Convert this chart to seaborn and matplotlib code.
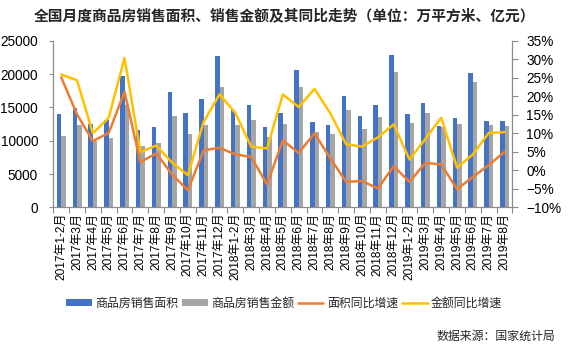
import numpy as np
import pandas as pd
import matplotlib
matplotlib.use("Agg")
import matplotlib.pyplot as plt
from matplotlib.patches import Patch
from matplotlib.lines import Line2D
from matplotlib.ticker import FixedLocator, PercentFormatter
import seaborn as sns

categories = [
    "2017年1-2月", "2017年3月", "2017年4月", "2017年5月", "2017年6月", "2017年7月",
    "2017年8月", "2017年9月", "2017年10月", "2017年11月", "2017年12月",
    "2018年1-2月", "2018年3月", "2018年4月", "2018年5月", "2018年6月", "2018年7月",
    "2018年8月", "2018年9月", "2018年10月", "2018年11月", "2018年12月",
    "2019年1-2月", "2019年3月", "2019年4月", "2019年5月", "2019年6月", "2019年7月",
    "2019年8月",
]
area = [14000, 14900, 12500, 13100, 19700, 11600, 12050, 17300, 14150, 16250, 22700,
        14600, 15350, 12050, 14150, 20600, 12800, 12350, 16700, 13700, 15350, 22850,
        14000, 15650, 12200, 13400, 20150, 12950, 12950]
amount = [10700, 12350, 10000, 10400, 15400, 9200, 9650, 13750, 11050, 12350, 18050,
          12350, 13100, 10550, 12500, 18050, 11300, 11000, 14600, 11750, 13550, 20300,
          12650, 14150, 12100, 12500, 18800, 12350, 12200]
area_yoy = [25.1, 15.1, 7.9, 10.1, 21.2, 2.2, 4.6, -1.1, -5.4, 5.4, 6.1,
            4.3, 3.6, -3.8, 8.1, 4.7, 10.0, 3.2, -3.1, -2.9, -4.9, 1.1,
            -3.1, 2.0, 1.6, -5.1, -1.8, 1.4, 5.0]
amount_yoy = [25.9, 24.3, 10.0, 14.2, 30.3, 4.9, 6.7, 2.1, -1.3, 13.1, 20.5,
              15.5, 6.4, 5.9, 20.5, 17.1, 22.0, 15.4, 7.0, 6.4, 8.9, 12.4,
              2.9, 8.5, 14.2, 0.7, 4.3, 10.1, 10.3]

series_names = ["商品房销售面积", "商品房销售金额", "面积同比增速", "金额同比增速"]
colors = ["#4472C4", "#A5A5A5", "#ED7D31", "#FFC000"]

sns.set_theme(style="white")
plt.rcParams["font.family"] = ["Liberation Sans", "Noto Sans CJK SC", "DejaVu Sans"]
plt.rcParams["axes.unicode_minus"] = True

bars = pd.DataFrame({
    "月份": categories * 2,
    "值": area + amount,
    "指标": [series_names[0]] * len(categories) + [series_names[1]] * len(categories),
})
lines = pd.DataFrame({
    "pos": list(range(len(categories))) * 2,
    "增速": area_yoy + amount_yoy,
    "指标": [series_names[2]] * len(categories) + [series_names[3]] * len(categories),
})

fig = plt.figure(figsize=(5.7, 3.45), dpi=100)
ax = fig.add_axes([0.0935, 0.399, 0.8055, 0.483])

sns.barplot(data=bars, x="月份", y="值", hue="指标", order=categories,
            hue_order=series_names[:2], palette=colors[:2], width=0.57,
            saturation=1, legend=False, ax=ax, linewidth=0)

ax2 = ax.twinx()
sns.lineplot(data=lines, x="pos", y="增速", hue="指标", hue_order=series_names[2:],
             palette=colors[2:], linewidth=1.8, legend=False, ax=ax2)

n = len(categories)
ax.set_xlim(-0.5, n - 0.5)
ax2.set_xlim(-0.5, n - 0.5)
ax.set_ylim(0, 25000)
ax.set_yticks(np.arange(0, 25001, 5000))
ax2.set_ylim(-10, 35)
ax2.set_yticks(np.arange(-10, 36, 5))
ax2.yaxis.set_major_formatter(PercentFormatter(xmax=100, decimals=0))

ax.set_xlabel("")
ax.set_ylabel("")
ax2.set_xlabel("")
ax2.set_ylabel("")

spine_col = "#8C8C8C"
for a in (ax, ax2):
    for s in a.spines.values():
        s.set_visible(False)
ax.spines["left"].set_visible(True)
ax.spines["bottom"].set_visible(True)
ax2.spines["right"].set_visible(True)
for s in (ax.spines["left"], ax.spines["bottom"], ax2.spines["right"]):
    s.set_color(spine_col)
    s.set_linewidth(0.9)

# category labels, tick marks between categories
ax.set_xticks(range(n))
ax.set_xticklabels(categories, rotation=90, fontsize=8.6, color="#000000")
ax.xaxis.set_minor_locator(FixedLocator(np.arange(-0.5, n, 1.0)))
ax.tick_params(axis="x", which="major", length=0, pad=4)
ax.tick_params(axis="x", which="minor", length=4, width=0.8, color=spine_col,
               bottom=True)
ax.tick_params(axis="y", which="major", length=3, width=0.8, color=spine_col,
               left=True, labelsize=9.8, pad=8, labelcolor="#000000")
ax2.tick_params(axis="y", which="major", length=4, width=0.8, color=spine_col,
                right=True, labelsize=9.8, pad=6, labelcolor="#000000")
ax.grid(False)
ax2.grid(False)

fig.text(0.5, 0.955, "全国月度商品房销售面积、销售金额及其同比走势（单位：万平方米、亿元）",
         ha="center", va="center", fontsize=10.6, fontweight="bold",
         family=["Noto Sans CJK SC", "DejaVu Sans"])

handles = [
    Patch(facecolor=colors[0], edgecolor="none"),
    Patch(facecolor=colors[1], edgecolor="none"),
    Line2D([0], [0], color=colors[2], linewidth=1.8),
    Line2D([0], [0], color=colors[3], linewidth=1.8),
]
fig.legend(handles, series_names, loc="center", bbox_to_anchor=(0.499, 0.122),
           ncol=4, frameon=False, fontsize=8.6, handlelength=2.1,
           handleheight=0.5, handletextpad=0.3, columnspacing=0.35,
           prop={"family": ["Noto Sans CJK SC", "DejaVu Sans"], "size": 8.6})

fig.text(0.974, 0.026, "数据来源：国家统计局", ha="right", va="center", fontsize=8.6,
         family=["Noto Sans CJK SC", "DejaVu Sans"])

fig.savefig("out.png", dpi=100)
